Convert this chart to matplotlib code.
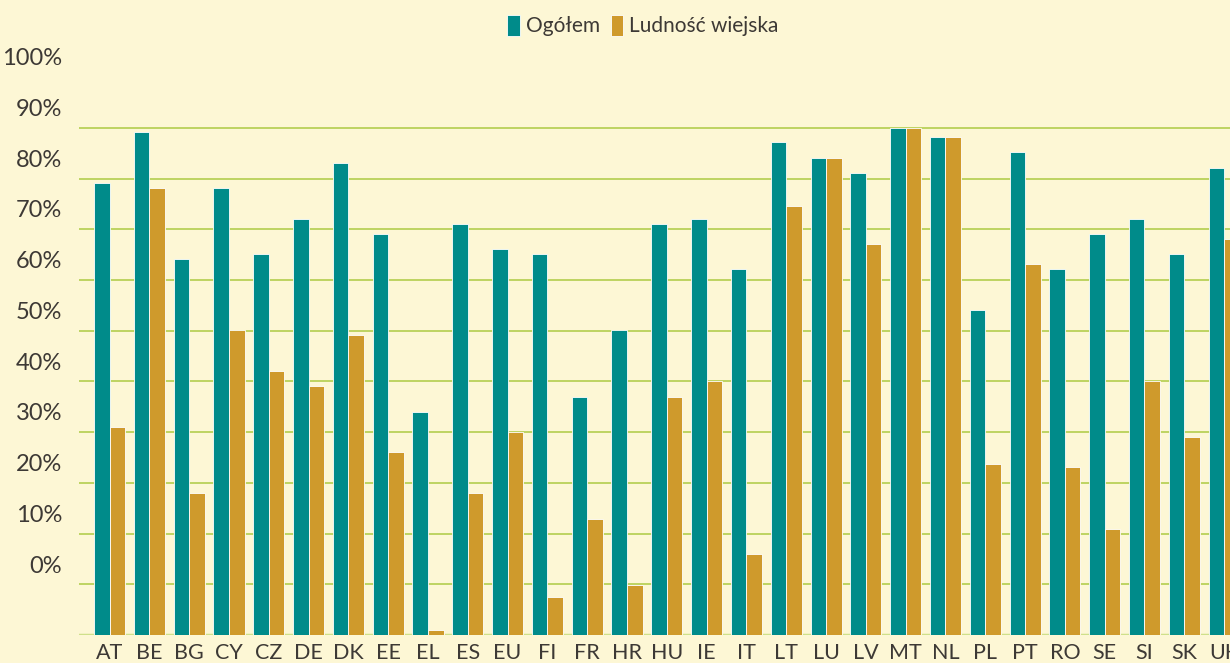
import matplotlib
matplotlib.use("Agg")
import matplotlib.pyplot as plt
import numpy as np

plt.rcParams["font.family"] = ["Lato", "DejaVu Sans"]

BG = "#FDF7D5"
TEAL = "#008B8A"
GOLD = "#CF9A2C"
GRID = "#B9D158"
TXT = "#3D3935"

countries = ["AT", "BE", "BG", "CY", "CZ", "DE", "DK", "EE", "EL", "ES",
             "EU", "FI", "FR", "HR", "HU", "IE", "IT", "LT", "LU", "LV",
             "MT", "NL", "PL", "PT", "RO", "SE", "SI", "SK", "UK"]
ogolem = [89.2, 99.2, 74.2, 88.2, 75.1, 82.1, 93.1, 79.1, 44.0, 81.1,
          76.1, 75.1, 46.9, 60.2, 81.1, 82.1, 72.2, 97.2, 94.1, 91.1,
          100.0, 98.2, 64.1, 95.3, 72.2, 79.1, 82.1, 75.1, 92.1]
wiejska = [41.0, 88.2, 28.0, 60.2, 52.1, 49.1, 59.2, 36.1, 1.0, 28.0,
           40.0, 7.5, 22.9, 9.9, 46.9, 50.1, 16.0, 84.6, 94.1, 77.1,
           100.0, 98.2, 33.7, 73.2, 33.1, 20.9, 50.1, 39.1, 78.1]
tick_labels = ["0%", "10%", "20%", "30%", "40%", "50%", "60%", "70%", "80%", "90%", "100%"]

fig = plt.figure(figsize=(12.3, 6.63), dpi=100, facecolor=BG)
ax = fig.add_axes([0.0642, 0.0422, 1 - 0.0642, 1 - 0.0422])
ax.set_facecolor(BG)

x = np.arange(len(countries))
w = 0.39
ax.bar(x - w / 2, ogolem, w, color=TEAL, edgecolor="white", linewidth=0.6,
       label="Ogółem", zorder=3)
ax.bar(x + w / 2, wiejska, w, color=GOLD, edgecolor="white", linewidth=0.6,
       label="Ludność wiejska", zorder=3)

ax.set_xlim(-0.77, 28.15)
ax.set_ylim(0, 125.2)

# gridlines at every 10%, labels sit shifted up as in the original
for g in range(10, 101, 10):
    ax.axhline(g, color=GRID, lw=1.3, zorder=1)
ax.axhline(0, color="#CFE08A", lw=2.5, zorder=1)
ax.set_yticks([v + 14 for v in range(0, 101, 10)])
ax.set_yticklabels(tick_labels, fontsize=17, color=TXT)
ax.set_xticks(x)
ax.set_xticklabels(countries, fontsize=15.5, color=TXT)
ax.tick_params(axis="both", length=0, pad=6)
ax.tick_params(axis="y", pad=12)
for s in ax.spines.values():
    s.set_visible(False)

leg = ax.legend(loc="upper center", bbox_to_anchor=(0.49, 0.99), ncol=2,
                frameon=False, fontsize=15, handlelength=0.6, handleheight=1.2,
                handletextpad=0.3, columnspacing=0.5, borderaxespad=0)
for t in leg.get_texts():
    t.set_color(TXT)

fig.savefig("out.png", dpi=100, facecolor=BG)
